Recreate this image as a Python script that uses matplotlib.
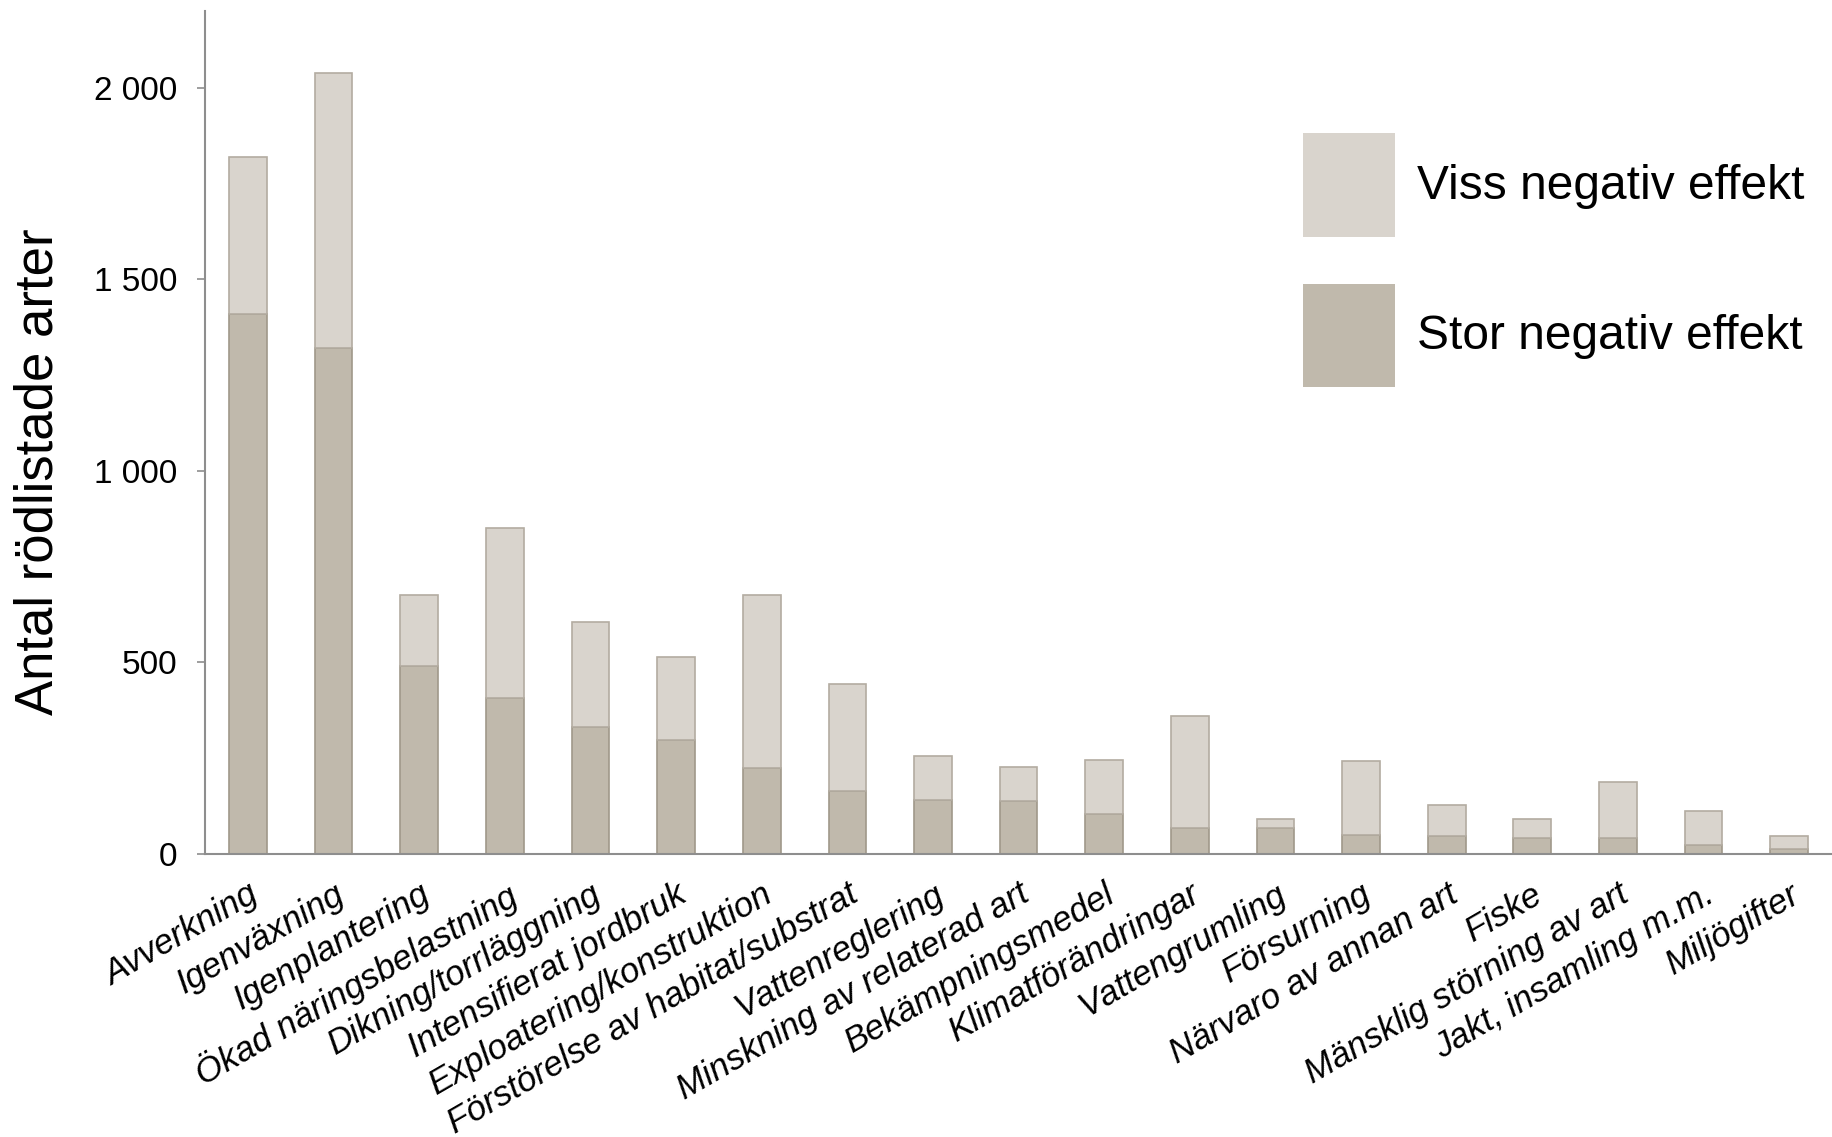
import numpy as np
import matplotlib
matplotlib.use("Agg")
import matplotlib.pyplot as plt
from matplotlib.patches import Patch
from matplotlib.ticker import FuncFormatter

plt.rcParams['font.family'] = ['Liberation Sans', 'DejaVu Sans']

# Data
kategorier = ["Avverkning", "Igenväxning", "Igenplantering", "Ökad näringsbelastning",
              "Dikning/torrläggning", "Intensifierat jordbruk", "Exploatering/konstruktion",
              "Förstörelse av habitat/substrat", "Vattenreglering", "Minskning av relaterad art",
              "Bekämpningsmedel", "Klimatförändringar", "Vattengrumling", "Försurning",
              "Närvaro av annan art", "Fiske", "Mänsklig störning av art",
              "Jakt, insamling m.m.", "Miljögifter"]
totalt = [1820, 2040, 676, 852, 606, 514, 676, 444, 256, 227, 244, 360, 90, 243, 128, 92, 188, 111, 48]
stor = [1409, 1321, 490, 408, 332, 298, 225, 164, 142, 138, 103, 68, 67, 50, 47, 41, 41, 24, 13]
viss = [t - s for t, s in zip(totalt, stor)]
yticks = [0, 500, 1000, 1500, 2000]

ljus = '#D9D4CD'
ljus_kant = '#B3ACA1'
mork = '#C0B9AC'
mork_kant = '#A0988A'
axel = '#8E8E8E'

fig = plt.figure(figsize=(18.32, 11.37), dpi=100)
ax = fig.add_axes([0.112, 0.249, 0.888, 0.741])

x = np.arange(len(kategorier))
ax.bar(x, stor, width=0.44, color=mork, edgecolor=mork_kant, linewidth=1.2)
ax.bar(x, viss, width=0.44, bottom=stor, color=ljus, edgecolor=ljus_kant, linewidth=1.2)

ax.set_xlim(-0.5, len(kategorier) - 0.5)
ax.set_ylim(0, 2200)
ax.set_yticks(yticks)
ax.yaxis.set_major_formatter(FuncFormatter(lambda v, p: f"{int(v):,}".replace(",", " ")))
ax.tick_params(axis='y', labelsize=24, length=6, width=1.2, color=axel, pad=14)
ax.set_xticks(x)
ax.set_xticklabels(kategorier, rotation=30, ha='right', va='top', rotation_mode='anchor',
                   fontsize=25, style='italic')
ax.tick_params(axis='x', length=0, pad=17)

for s in ['top', 'right']:
    ax.spines[s].set_visible(False)
for s in ['left', 'bottom']:
    ax.spines[s].set_color(axel)
    ax.spines[s].set_linewidth(1.5)

fig.text(0.021, 0.585, "Antal rödlistade arter", rotation=90, fontsize=38,
         ha='center', va='center')

handles = [Patch(facecolor=ljus, edgecolor='none'), Patch(facecolor=mork, edgecolor='none')]
fig.legend(handles, ["Viss negativ effekt", "Stor negativ effekt"], loc='upper left',
           bbox_to_anchor=(0.711, 0.883), frameon=False, fontsize=34.5,
           handlelength=1.93, handleheight=2.95, handletextpad=0.45, labelspacing=0.98,
           borderpad=0, borderaxespad=0)

fig.savefig("out.png", dpi=100)
